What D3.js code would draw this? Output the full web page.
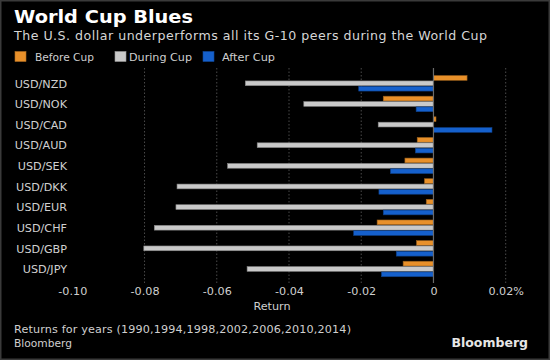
<!DOCTYPE html>
<html>
<head>
<meta charset="utf-8">
<script src="https://cdn.jsdelivr.net/npm/d3@7"></script>
<style>
  html, body { margin: 0; padding: 0; background: #000; }
  svg { display: block; }
  text { font-family: "DejaVu Sans", Verdana, sans-serif; }
</style>
</head>
<body>
<svg id="chart" width="550" height="360"></svg>
<script>
// ---- Data ----
const categories = ["USD/NZD","USD/NOK","USD/CAD","USD/AUD","USD/SEK","USD/DKK","USD/EUR","USD/CHF","USD/GBP","USD/JPY"];
const seriesNames = ["Before Cup","During Cup","After Cup"];
const beforeCup = [0.0093, -0.0139, 0.0007, -0.0045, -0.0079, -0.0025, -0.0020, -0.0156, -0.0047, -0.0084];
const duringCup = [-0.0521, -0.0359, -0.0153, -0.0488, -0.0570, -0.0710, -0.0713, -0.0773, -0.0802, -0.0516];
const afterCup  = [-0.0207, -0.0048, 0.0162, -0.0050, -0.0119, -0.0151, -0.0139, -0.0221, -0.0103, -0.0144];
const tickValues = [-0.10, -0.08, -0.06, -0.04, -0.02, 0, 0.02];
const tickLabels = ["-0.10", "-0.08", "-0.06", "-0.04", "-0.02", "0", "0.02%"];

const colors = ["#e8902a", "#c9c9c9", "#1560cc"];
const seriesValues = [beforeCup, duringCup, afterCup];

const svg = d3.select("#chart");
const W = 550, H = 360;

svg.append("rect").attr("x", 0).attr("y", 0).attr("width", W).attr("height", H).attr("fill", "#000");
svg.append("rect").attr("x", 0.75).attr("y", 0.75).attr("width", W - 1.5).attr("height", H - 1.5)
  .attr("fill", "none").attr("stroke", "#3a3a3a").attr("stroke-width", 1.5);

// Title & subtitle
svg.append("text").attr("x", 14).attr("y", 23).attr("fill", "#fff")
  .attr("font-size", 17).attr("font-weight", "bold")
  .attr("textLength", 179).attr("lengthAdjust", "spacingAndGlyphs").text("World Cup Blues");
svg.append("text").attr("x", 14).attr("y", 39.5).attr("fill", "#d6d6d6")
  .attr("font-size", 12.6).attr("textLength", 473).attr("lengthAdjust", "spacing")
  .text("The U.S. dollar underperforms all its G-10 peers during the World Cup");

// Legend
const legendX = [15, 115, 203];
const legendTextX = [35, 129, 222];
const legendW = [59, 63, 53];
const lg = svg.append("g");
seriesNames.forEach((n, i) => {
  lg.append("rect").attr("x", legendX[i]).attr("y", 51.5).attr("width", 11).attr("height", 10)
    .attr("fill", colors[i]).attr("stroke", d3.color(colors[i]).darker(0.8)).attr("stroke-width", 0.6);
  lg.append("text").attr("x", legendTextX[i]).attr("y", 61).attr("fill", "#cfcfcf")
    .attr("font-size", 11).attr("textLength", legendW[i]).attr("lengthAdjust", "spacingAndGlyphs").text(n);
});

// Scales
const x = d3.scaleLinear().domain([-0.10, 0.02]).range([72.3, 505.7]);
const y = d3.scaleBand().domain(categories).range([73, 279.3]).paddingInner(0.22).paddingOuter(0.11);
const ySub = d3.scaleBand().domain(seriesNames).range([0, y.bandwidth()]);

// Gridlines (dotted)
const gridTop = 68, gridBottom = 283;
svg.append("g").selectAll("line").data(tickValues.filter(v => v !== -0.10 && v !== 0)).join("line")
  .attr("x1", d => x(d)).attr("x2", d => x(d))
  .attr("y1", gridTop).attr("y2", gridBottom)
  .attr("stroke", "#4a4a4a").attr("stroke-width", 1).attr("stroke-dasharray", "1.5,2");

// Bars
const groups = svg.append("g").selectAll("g").data(categories).join("g")
  .attr("transform", d => `translate(0,${y(d)})`);
groups.each(function(cat, ci) {
  const g = d3.select(this);
  seriesNames.forEach((s, si) => {
    const v = seriesValues[si][ci];
    g.append("rect")
      .attr("x", x(Math.min(0, v)))
      .attr("y", ySub(s) + 0.3)
      .attr("width", Math.abs(x(v) - x(0)))
      .attr("height", ySub.bandwidth() - 0.6)
      .attr("fill", colors[si])
      .attr("stroke", d3.color(colors[si]).darker(1.2))
      .attr("stroke-width", 0.6);
  });
});

// Zero line
svg.append("line").attr("x1", x(0)).attr("x2", x(0)).attr("y1", gridTop).attr("y2", gridBottom)
  .attr("stroke", "#6a6a6a").attr("stroke-width", 1.2);

// Category labels
svg.append("g").selectAll("text").data(categories).join("text")
  .attr("x", 67).attr("y", d => y(d) + y.bandwidth() / 2 + 4.2)
  .attr("text-anchor", "end").attr("fill", "#d0d0d0").attr("font-size", 11.2)
  .text(d => d);

// X axis
const xAxis = d3.axisBottom(x).tickValues(tickValues).tickSize(0).tickPadding(0)
  .tickFormat((d, i) => tickLabels[i]);
const ax = svg.append("g").attr("transform", "translate(0,287)").call(xAxis);
ax.select(".domain").remove();
ax.selectAll("text").attr("fill", "#cfcfcf").attr("font-size", 11.2)
  .attr("font-family", "'DejaVu Sans', Verdana, sans-serif");

svg.append("text").attr("x", 272).attr("y", 310).attr("text-anchor", "middle")
  .attr("fill", "#cfcfcf").attr("font-size", 11.2).text("Return");

// Footer
svg.append("text").attr("x", 14).attr("y", 333).attr("fill", "#cfcfcf").attr("font-size", 11.2)
  .attr("textLength", 337).attr("lengthAdjust", "spacing")
  .text("Returns for years (1990,1994,1998,2002,2006,2010,2014)");
svg.append("text").attr("x", 14).attr("y", 347).attr("fill", "#cfcfcf").attr("font-size", 11.2)
  .attr("textLength", 58).attr("lengthAdjust", "spacingAndGlyphs").text("Bloomberg");
svg.append("text").attr("x", 528).attr("y", 346.5).attr("text-anchor", "end").attr("fill", "#e6e6e6")
  .attr("font-size", 12.5).attr("font-weight", "bold")
  .attr("font-family", "'Liberation Sans', Arial, sans-serif").text("Bloomberg");
</script>
</body>
</html>
